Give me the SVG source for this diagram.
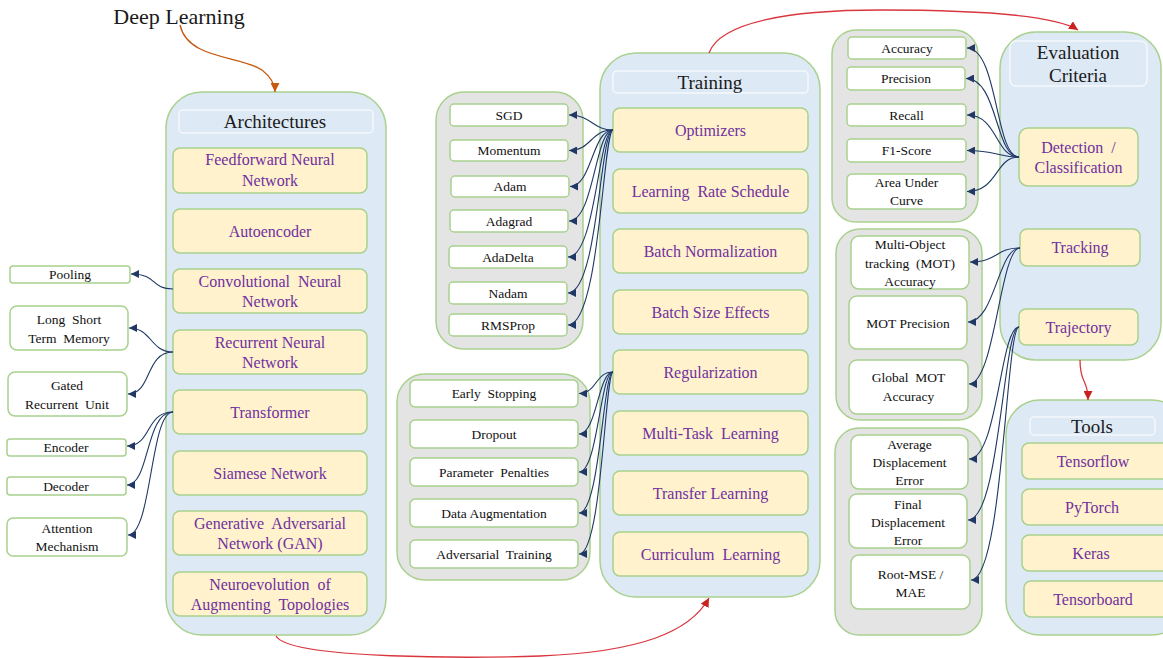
<svg xmlns="http://www.w3.org/2000/svg" width="1163" height="658" viewBox="0 0 1163 658">
  <defs>
    <marker id="navy" viewBox="0 0 10 10" refX="10" refY="5" markerWidth="8" markerHeight="8" markerUnits="userSpaceOnUse" orient="auto">
      <path d="M0,0 L10,5 L0,10 Z" fill="#1f3864"/>
    </marker>
    <marker id="red" viewBox="0 0 10 10" refX="10" refY="5" markerWidth="9" markerHeight="9" markerUnits="userSpaceOnUse" orient="auto">
      <path d="M0,0 L10,5 L0,10 Z" fill="#c9211e"/>
    </marker>
    <marker id="orange" viewBox="0 0 10 10" refX="10" refY="5" markerWidth="9" markerHeight="9" markerUnits="userSpaceOnUse" orient="auto">
      <path d="M0,0 L10,5 L0,10 Z" fill="#c55a11"/>
    </marker>
  </defs>
  <style>
    text { font-family: "Liberation Serif", "Times New Roman", serif; text-anchor: middle; white-space: pre; }
    .panel { fill: #dde9f5; stroke: #a9d18e; stroke-width: 1.5; }
    .grey { fill: #e4e4e4; stroke: #a9d18e; stroke-width: 1.5; }
    .head { fill: #dde9f5; stroke: #f4f8fc; stroke-width: 1.5; }
    .item { fill: #fff2cc; stroke: #a9d18e; stroke-width: 1.5; }
    .leaf { fill: #ffffff; stroke: #a9d18e; stroke-width: 1.5; }
    .ht { font-size: 19px; fill: #1a1a1a; }
    .it { font-size: 16px; fill: #7030a0; }
    .lt { font-size: 13.5px; fill: #111111; }
    .conn path { fill: none; stroke: #1f3864; stroke-width: 1.1; marker-end: url(#navy); }
    .flow path { fill: none; stroke-width: 1.3; }
  </style>

  <!-- Root label -->
  <g id="deep-learning">
    <text x="179" y="24" style="font-size:22px;fill:#1a1a1a">Deep Learning</text>
  </g>

  <!-- Architectures -->
  <g id="architectures">
    <rect class="panel" x="166" y="92" width="220" height="543" rx="36"/>
    <rect class="head" x="179" y="110" width="194" height="23" rx="4"/>
    <text class="ht" x="275" y="128">Architectures</text>
  </g>
  <g id="ffnn"><rect class="item" x="173" y="148" width="194" height="45" rx="7"/><text class="it" x="270" y="165">Feedforward Neural</text><text class="it" x="270" y="186">Network</text></g>
  <g id="autoencoder"><rect class="item" x="173" y="209" width="194" height="44" rx="7"/><text class="it" x="270" y="236.5">Autoencoder</text></g>
  <g id="cnn"><rect class="item" x="173" y="269" width="194" height="44" rx="7"/><text class="it" x="270" y="286.5">Convolutional  Neural</text><text class="it" x="270" y="306.5">Network</text></g>
  <g id="rnn"><rect class="item" x="173" y="330" width="194" height="44" rx="7"/><text class="it" x="270" y="347.5">Recurrent Neural</text><text class="it" x="270" y="367.5">Network</text></g>
  <g id="transformer"><rect class="item" x="173" y="390" width="194" height="44" rx="7"/><text class="it" x="270" y="417.5">Transformer</text></g>
  <g id="siamese"><rect class="item" x="173" y="451" width="194" height="44" rx="7"/><text class="it" x="270" y="478.5">Siamese Network</text></g>
  <g id="gan"><rect class="item" x="173" y="511" width="194" height="44" rx="7"/><text class="it" x="270" y="529">Generative  Adversarial</text><text class="it" x="270" y="549">Network (GAN)</text></g>
  <g id="neat"><rect class="item" x="173" y="572" width="194" height="44" rx="7"/><text class="it" x="270" y="589.5">Neuroevolution  of</text><text class="it" x="270" y="609.5">Augmenting  Topologies</text></g>

  <!-- Architecture details -->
  <g id="pooling"><rect class="leaf" x="10" y="266" width="120" height="17" rx="3"/><text class="lt" x="70" y="279">Pooling</text></g>
  <g id="lstm"><rect class="leaf" x="10" y="306" width="118" height="44" rx="7"/><text class="lt" x="69" y="323.5">Long  Short</text><text class="lt" x="69" y="342.5">Term  Memory</text></g>
  <g id="gru"><rect class="leaf" x="8" y="372" width="119" height="44" rx="7"/><text class="lt" x="67" y="389.5">Gated</text><text class="lt" x="67" y="408.5">Recurrent  Unit</text></g>
  <g id="encoder"><rect class="leaf" x="7" y="439" width="119" height="17" rx="3"/><text class="lt" x="66" y="452">Encoder</text></g>
  <g id="decoder"><rect class="leaf" x="7" y="477" width="119" height="18" rx="3"/><text class="lt" x="66" y="490.5">Decoder</text></g>
  <g id="attention"><rect class="leaf" x="7" y="518" width="120" height="38" rx="6"/><text class="lt" x="67" y="532.5">Attention</text><text class="lt" x="67" y="550.5">Mechanism</text></g>

  <!-- Training -->
  <g id="training">
    <rect class="panel" x="600" y="53" width="220" height="544" rx="36"/>
    <rect class="head" x="613" y="71" width="195" height="22" rx="4"/>
    <text class="ht" x="710" y="89">Training</text>
  </g>
  <g id="optimizers"><rect class="item" x="613" y="108" width="195" height="44" rx="7"/><text class="it" x="710.5" y="135.5">Optimizers</text></g>
  <g id="lr-schedule"><rect class="item" x="613" y="169" width="195" height="44" rx="7"/><text class="it" x="710.5" y="196.5">Learning  Rate Schedule</text></g>
  <g id="batch-norm"><rect class="item" x="613" y="229" width="195" height="44" rx="7"/><text class="it" x="710.5" y="256.5">Batch Normalization</text></g>
  <g id="batch-size"><rect class="item" x="613" y="290" width="195" height="44" rx="7"/><text class="it" x="710.5" y="317.5">Batch Size Effects</text></g>
  <g id="regularization"><rect class="item" x="613" y="350" width="195" height="44" rx="7"/><text class="it" x="710.5" y="377.5">Regularization</text></g>
  <g id="multi-task"><rect class="item" x="613" y="411" width="195" height="44" rx="7"/><text class="it" x="710.5" y="438.5">Multi-Task  Learning</text></g>
  <g id="transfer"><rect class="item" x="613" y="471" width="195" height="44" rx="7"/><text class="it" x="710.5" y="498.5">Transfer Learning</text></g>
  <g id="curriculum"><rect class="item" x="613" y="532" width="195" height="44" rx="7"/><text class="it" x="710.5" y="559.5">Curriculum  Learning</text></g>

  <!-- Optimizer list -->
  <g id="optimizer-list">
    <rect class="grey" x="436" y="92" width="147" height="257" rx="28"/>
  </g>
  <g id="sgd"><rect class="leaf" x="450" y="104" width="118" height="22" rx="4"/><text class="lt" x="509" y="119.5">SGD</text></g>
  <g id="momentum"><rect class="leaf" x="450" y="140" width="118" height="21" rx="4"/><text class="lt" x="509" y="155">Momentum</text></g>
  <g id="adam"><rect class="leaf" x="451" y="176" width="118" height="21" rx="4"/><text class="lt" x="510" y="191">Adam</text></g>
  <g id="adagrad"><rect class="leaf" x="450" y="210" width="118" height="22" rx="4"/><text class="lt" x="509" y="225.5">Adagrad</text></g>
  <g id="adadelta"><rect class="leaf" x="449" y="246" width="118" height="22" rx="4"/><text class="lt" x="508" y="261.5">AdaDelta</text></g>
  <g id="nadam"><rect class="leaf" x="449" y="282" width="118" height="22" rx="4"/><text class="lt" x="508" y="297.5">Nadam</text></g>
  <g id="rmsprop"><rect class="leaf" x="449" y="314" width="118" height="22" rx="4"/><text class="lt" x="508" y="329.5">RMSProp</text></g>

  <!-- Regularization list -->
  <g id="regularization-list">
    <rect class="grey" x="397" y="374" width="193" height="206" rx="28"/>
  </g>
  <g id="early-stopping"><rect class="leaf" x="410" y="380" width="168" height="27" rx="5"/><text class="lt" x="494" y="398">Early  Stopping</text></g>
  <g id="dropout"><rect class="leaf" x="410" y="420" width="168" height="28" rx="5"/><text class="lt" x="494" y="438.5">Dropout</text></g>
  <g id="penalties"><rect class="leaf" x="410" y="458" width="168" height="28" rx="5"/><text class="lt" x="494" y="476.5">Parameter  Penalties</text></g>
  <g id="augmentation"><rect class="leaf" x="410" y="499" width="168" height="28" rx="5"/><text class="lt" x="494" y="517.5">Data Augmentation</text></g>
  <g id="adversarial"><rect class="leaf" x="410" y="540" width="168" height="28" rx="5"/><text class="lt" x="494" y="558.5">Adversarial  Training</text></g>

  <!-- Evaluation Criteria -->
  <g id="evaluation">
    <rect class="panel" x="1000" y="32" width="161" height="328" rx="36"/>
    <rect class="head" x="1010" y="41" width="137" height="45" rx="6"/>
    <text class="ht" x="1078" y="59">Evaluation</text>
    <text class="ht" x="1078" y="82">Criteria</text>
  </g>
  <g id="detection"><rect class="item" x="1019" y="128" width="119" height="58" rx="9"/><text class="it" x="1078.5" y="152.5">Detection  /</text><text class="it" x="1078.5" y="173">Classification</text></g>
  <g id="tracking"><rect class="item" x="1020" y="229" width="120" height="37" rx="7"/><text class="it" x="1080" y="253">Tracking</text></g>
  <g id="trajectory"><rect class="item" x="1019" y="309" width="119" height="36" rx="7"/><text class="it" x="1078.5" y="332.5">Trajectory</text></g>

  <!-- Classification metrics -->
  <g id="classification-metrics">
    <rect class="grey" x="832" y="30" width="146" height="192" rx="24"/>
  </g>
  <g id="accuracy"><rect class="leaf" x="848" y="37" width="118" height="22" rx="4"/><text class="lt" x="907" y="52.5">Accuracy</text></g>
  <g id="precision"><rect class="leaf" x="847" y="67" width="118" height="23" rx="4"/><text class="lt" x="906" y="83">Precision</text></g>
  <g id="recall"><rect class="leaf" x="847" y="104" width="119" height="22" rx="4"/><text class="lt" x="906.5" y="119.5">Recall</text></g>
  <g id="f1-score"><rect class="leaf" x="847" y="139" width="119" height="23" rx="4"/><text class="lt" x="906.5" y="155">F1-Score</text></g>
  <g id="auc"><rect class="leaf" x="847" y="174" width="119" height="35" rx="5"/><text class="lt" x="906.5" y="187">Area Under</text><text class="lt" x="906.5" y="205">Curve</text></g>

  <!-- Tracking metrics -->
  <g id="tracking-metrics">
    <rect class="grey" x="836" y="229" width="146" height="191" rx="24"/>
  </g>
  <g id="mota"><rect class="leaf" x="851" y="236" width="118" height="53" rx="8"/><text class="lt" x="910" y="249">Multi-Object</text><text class="lt" x="910" y="267.5">tracking  (MOT)</text><text class="lt" x="910" y="285.5">Accuracy</text></g>
  <g id="motp"><rect class="leaf" x="849" y="296" width="118" height="53" rx="8"/><text class="lt" x="908" y="327.5">MOT Precision</text></g>
  <g id="global-mota"><rect class="leaf" x="849" y="360" width="119" height="54" rx="8"/><text class="lt" x="908.5" y="382">Global  MOT</text><text class="lt" x="908.5" y="401">Accuracy</text></g>

  <!-- Trajectory metrics -->
  <g id="trajectory-metrics">
    <rect class="grey" x="835" y="428" width="147" height="207" rx="24"/>
  </g>
  <g id="ade"><rect class="leaf" x="851" y="435" width="117" height="54" rx="8"/><text class="lt" x="909.5" y="448.5">Average</text><text class="lt" x="909.5" y="466.5">Displacement</text><text class="lt" x="909.5" y="484.5">Error</text></g>
  <g id="fde"><rect class="leaf" x="849" y="494" width="118" height="54" rx="8"/><text class="lt" x="908" y="508.5">Final</text><text class="lt" x="908" y="526.5">Displacement</text><text class="lt" x="908" y="544.5">Error</text></g>
  <g id="rmse"><rect class="leaf" x="851" y="555" width="119" height="54" rx="8"/><text class="lt" x="910.5" y="578.5">Root-MSE /</text><text class="lt" x="910.5" y="597">MAE</text></g>

  <!-- Tools -->
  <g id="tools">
    <rect class="panel" x="1006" y="400" width="180" height="235" rx="34"/>
    <rect class="head" x="1030" y="417" width="125" height="18" rx="4"/>
    <text class="ht" x="1092" y="433">Tools</text>
  </g>
  <g id="tensorflow"><rect class="item" x="1022" y="443" width="150" height="36" rx="7"/><text class="it" x="1093" y="466.5">Tensorflow</text></g>
  <g id="pytorch"><rect class="item" x="1022" y="489" width="150" height="36" rx="7"/><text class="it" x="1092" y="512.5">PyTorch</text></g>
  <g id="keras"><rect class="item" x="1022" y="535" width="150" height="36" rx="7"/><text class="it" x="1091" y="558.5">Keras</text></g>
  <g id="tensorboard"><rect class="item" x="1024" y="581" width="150" height="36" rx="7"/><text class="it" x="1093" y="604.5">Tensorboard</text></g>

  <!-- Connectors -->
  <g id="connectors">
    <g class="conn">
      <!-- architectures to variants -->
      <path d="M173,289 C150,289 158,274 131,274"/>
      <path d="M173,352 C150,352 152,328 129,328"/>
      <path d="M173,352 C145,352 152,394 128,394"/>
      <path d="M173,412 C145,412 152,446 127,446"/>
      <path d="M173,412 C145,412 150,485 127,485"/>
      <path d="M173,412 C150,412 152,535 128,535"/>
      <!-- optimizers -->
      <path d="M613,130 C592,130 592,115 569,115"/>
      <path d="M613,130 C590,130 592,150.5 569,150.5"/>
      <path d="M613,130 C592,130 592,186.5 570,186.5"/>
      <path d="M613,130 C595,130 594,221 569,221"/>
      <path d="M613,130 C598,130 596,257 568,257"/>
      <path d="M613,130 C600,130 598,293 568,293"/>
      <path d="M613,130 C603,130 600,325 568,325"/>
      <!-- regularization techniques -->
      <path d="M613,372 C595,372 597,393.5 579,393.5"/>
      <path d="M613,372 C598,372 597,434 579,434"/>
      <path d="M613,372 C600,372 598,472 579,472"/>
      <path d="M613,372 C603,372 600,513 579,513"/>
      <path d="M613,372 C605,372 602,554 579,554"/>
      <!-- detection / classification metrics -->
      <path d="M1019,157 C995,157 998,48 967,48"/>
      <path d="M1019,157 C995,157 998,78.5 966,78.5"/>
      <path d="M1019,157 C995,157 998,115 967,115"/>
      <path d="M1019,157 C995,157 998,150.5 967,150.5"/>
      <path d="M1019,157 C995,157 998,191.5 967,191.5"/>
      <!-- tracking metrics -->
      <path d="M1020,248 C995,248 998,262 970,262"/>
      <path d="M1020,248 C998,248 995,322 968,322"/>
      <path d="M1020,248 C1000,248 995,384 969,384"/>
      <!-- trajectory metrics -->
      <path d="M1019,327 C1000,327 998,459 969,459"/>
      <path d="M1019,327 C1003,327 1000,520 968,520"/>
      <path d="M1019,327 C1006,327 1003,580 971,580"/>
    </g>
    <g class="flow">
      <path d="M180,25 C188,60 240,55 262,70 C272,78 275,85 275,92" stroke="#c55a11" marker-end="url(#orange)"/>
      <path d="M709,53 C720,22 790,10 880,10 C980,10 1055,15 1078,30" stroke="#d9363e" marker-end="url(#red)"/>
      <path d="M1080,360 C1080,385 1088,378 1088,400" stroke="#d9363e" marker-end="url(#red)"/>
      <path d="M276,636 C290,660 480,658 540,656 C640,652 690,632 709,598" stroke="#d9363e" marker-end="url(#red)"/>
    </g>
  </g>
</svg>
